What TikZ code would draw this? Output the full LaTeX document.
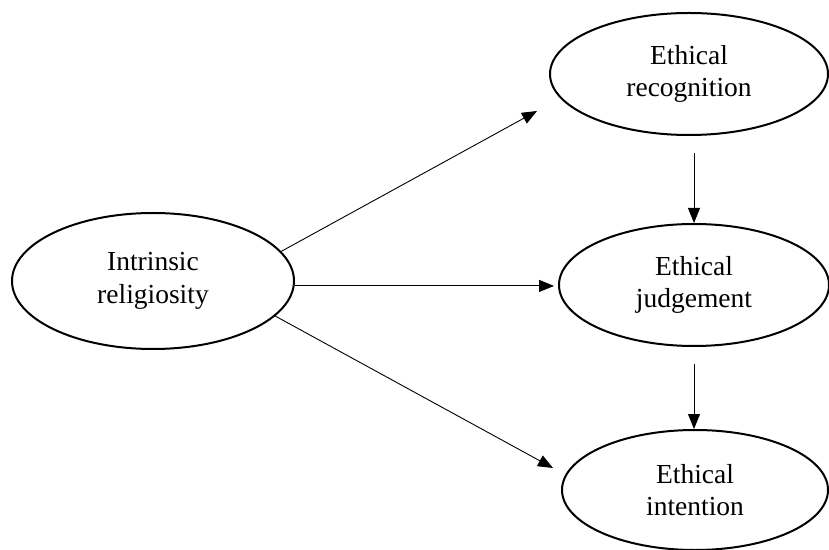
\documentclass[tikz,border=0pt]{standalone}
\usepackage{fontspec}
\setmainfont{Liberation Serif}
\usetikzlibrary{shapes.geometric,arrows.meta}

\begin{document}
\begin{tikzpicture}[x=1pt,y=1pt,
  construct/.style={ellipse,draw,line width=2pt,inner sep=0pt,align=center,
    font=\fontsize{27.5}{32.5}\selectfont},
  arr/.style={line width=0.9pt,-{Triangle[length=15pt,width=12pt]}}]
  \useasboundingbox (0,0) rectangle (829,549);

  % latent constructs
  \node[construct,minimum width=282pt,minimum height=136pt] (ir) at (153,268) {Intrinsic\\religiosity};
  \node[construct,minimum width=278pt,minimum height=122pt] (er) at (689,475) {Ethical\\recognition};
  \node[construct,minimum width=270pt,minimum height=122pt] (ej) at (694,264) {Ethical\\judgement};
  \node[construct,minimum width=266pt,minimum height=120pt] (ei) at (695,59) {Ethical\\intention};

  % free ends of the diagonal paths
  \coordinate (tr) at (537,438);
  \coordinate (ti) at (553,81);

  % paths from intrinsic religiosity
  \draw[arr] (ir.13) -- (tr);
  \draw[arr,shorten >=4pt] (ir.-2) -- (ir.-2 -| ej.west);
  \draw[arr] (ir.-16) -- (ti);

  % chain recognition -> judgement -> intention
  \draw[arr,shorten <=17pt] (er.south -| ej.north) -- (ej.north);
  \draw[arr,shorten <=17pt] (ej.south) -- (ej.south |- ei.north);
\end{tikzpicture}
\end{document}
